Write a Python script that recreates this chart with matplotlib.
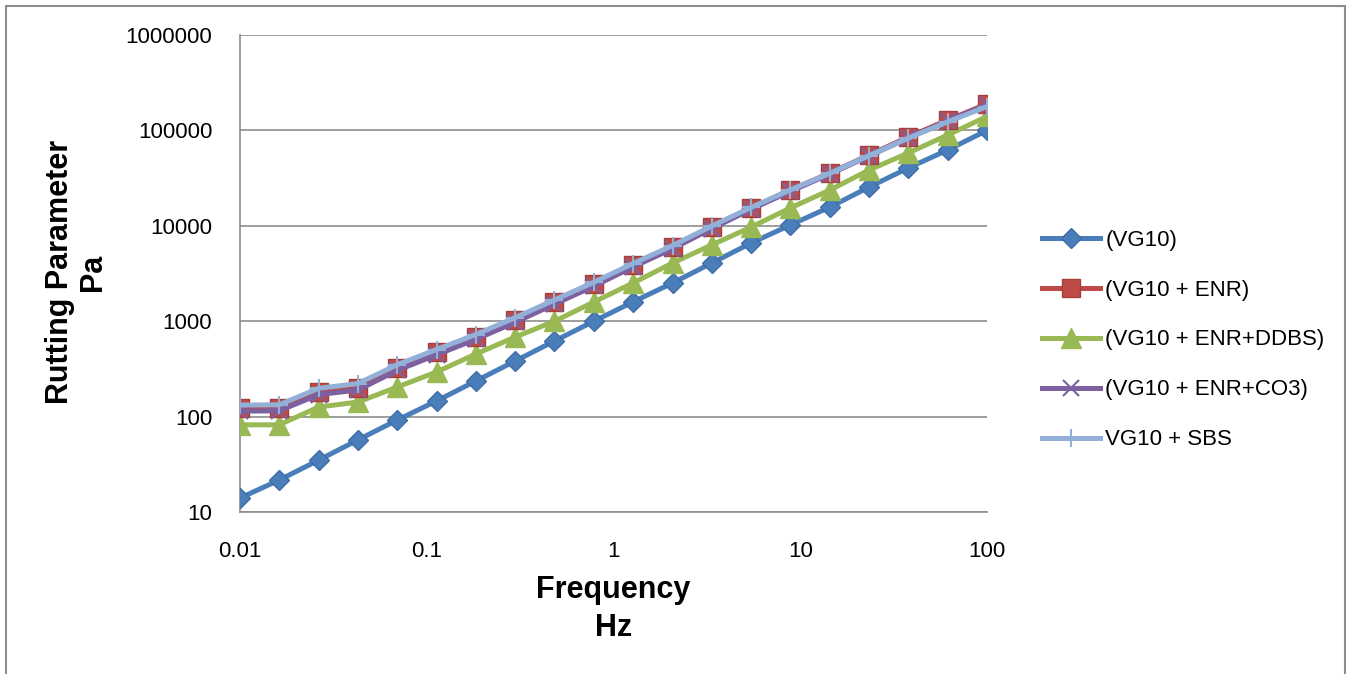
import matplotlib
matplotlib.use("Agg")
import matplotlib.pyplot as plt
from matplotlib.patches import Rectangle

plt.rcParams['font.family'] = ['Liberation Sans', 'DejaVu Sans']

# Data (frequency in Hz, rutting parameter in Pa)
freq = [0.01, 0.0162, 0.0264, 0.0428, 0.0695, 0.113, 0.183, 0.298, 0.483, 0.785,
        1.27, 2.07, 3.36, 5.46, 8.86, 14.4, 23.4, 37.9, 61.6, 100]

vg10 = [14, 21.6, 35, 57, 92, 146, 236, 383, 620, 1000,
        1590, 2510, 4070, 6600, 10200, 15700, 25500, 40400, 62300, 100000]
vg10_enr = [123, 123, 181, 200, 325, 475, 683, 1030, 1590, 2450,
            3880, 6000, 9700, 15400, 23700, 35700, 55200, 85300, 128500, 189000]
vg10_ddbs = [82, 82, 126, 142, 204, 294, 453, 683, 1000, 1590,
             2510, 4070, 6300, 9700, 15400, 23700, 38500, 58000, 89500, 140000]
vg10_co3 = [114, 115, 170, 190, 305, 445, 645, 975, 1510, 2330,
            3700, 5750, 9350, 14900, 23000, 34800, 54000, 83500, 126000, 186000]
vg10_sbs = [132, 133, 198, 222, 350, 505, 725, 1090, 1670, 2560,
            4020, 6200, 9950, 15600, 23800, 35500, 54500, 83000, 123000, 178000]

labels = ['(VG10)', '(VG10 + ENR)', '(VG10 + ENR+DDBS)', '(VG10 + ENR+CO3)', 'VG10 + SBS']
xticks = [0.01, 0.1, 1, 10, 100]
xticklabels = ['0.01', '0.1', '1', '10', '100']
yticks = [10, 100, 1000, 10000, 100000, 1000000]
yticklabels = ['10', '100', '1000', '10000', '100000', '1000000']

W, H = 1355, 674
fig = plt.figure(figsize=(W / 100, H / 100), dpi=100)
ax = fig.add_axes([240 / W, 1 - 512 / H, (987 - 240) / W, (512 - 35) / H])

# outer chart frame
fig.patches.append(Rectangle((6 / W, -0.01), (1345 - 6) / W, 1 - 6 / H + 0.01,
                             transform=fig.transFigure, fill=False,
                             edgecolor='#8c8c8c', lw=1.5))

lw = 3.6
ax.plot(freq, vg10, color='#4A7EBB', lw=lw, marker='D', ms=10,
        mfc='#4A7EBB', mec='#3E6DA6', label=labels[0], zorder=3)
ax.plot(freq, vg10_enr, color='#BE4B48', lw=lw, marker='s', ms=13,
        mfc='#BE4B48', mec='#A33F3C', label=labels[1], zorder=4)
ax.plot(freq, vg10_ddbs, color='#98B954', lw=lw, marker='^', ms=14.5,
        mfc='#98B954', mec='#98B954', label=labels[2], zorder=3.5)
ax.plot(freq, vg10_co3, color='#7D60A0', lw=lw, marker='x', ms=11, mew=1.5,
        label=labels[3], zorder=5)
ax.plot(freq, vg10_sbs, color='#93B1D8', lw=lw, marker='+', ms=13, mew=1.5,
        label=labels[4], zorder=6)

ax.set_xscale('log')
ax.set_yscale('log')
ax.set_xlim(0.01, 100)
ax.set_ylim(10, 1000000)
ax.set_xticks(xticks)
ax.set_xticklabels(xticklabels)
ax.set_yticks(yticks)
ax.set_yticklabels(yticklabels)
ax.minorticks_off()
ax.tick_params(axis='both', length=0, labelsize=16, colors='black')
ax.tick_params(axis='y', pad=20)
ax.tick_params(axis='x', pad=21)

ax.grid(axis='y', color='#8c8c8c', lw=1.2)
ax.set_axisbelow(True)
for side in ['top', 'right']:
    ax.spines[side].set_visible(False)
for side in ['left', 'bottom']:
    ax.spines[side].set_color('#8c8c8c')
    ax.spines[side].set_linewidth(1.2)

# axis titles
fig.text(60 / W, 1 - 272 / H, 'Rutting Parameter', rotation=90, fontsize=22,
         fontweight='bold', ha='center', va='center')
fig.text(93 / W, 1 - 272 / H, 'Pa', rotation=90, fontsize=22,
         fontweight='bold', ha='center', va='center')
fig.text(613.5 / W, 1 - 590 / H, 'Frequency', fontsize=22,
         fontweight='bold', ha='center', va='center')
fig.text(613.5 / W, 1 - 628 / H, 'Hz', fontsize=22,
         fontweight='bold', ha='center', va='center')

fig.legend(loc='center left', bbox_to_anchor=(1042 / W, 1 - 340 / H),
           frameon=False, fontsize=16, handlelength=2.6, handletextpad=0.25,
           labelspacing=1.3, borderpad=0, borderaxespad=0)

fig.savefig('out.png', dpi=100)
